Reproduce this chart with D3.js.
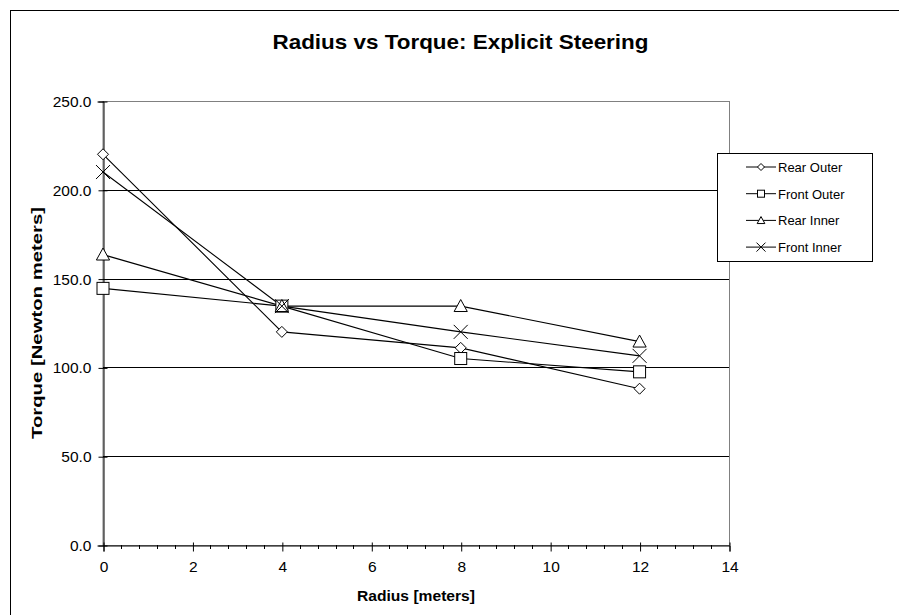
<!DOCTYPE html>
<html>
<head>
<meta charset="utf-8">
<script src="https://cdn.jsdelivr.net/npm/d3@7"></script>
<style>
  html, body { margin: 0; padding: 0; background: #fff; }
  svg { display: block; font-family: Arial, "Liberation Sans", sans-serif; }
</style>
</head>
<body>
<svg id="chart" width="899" height="615"></svg>
<script>
const radius = [0, 4, 8, 12];
const seriesNames = ["Rear Outer", "Front Outer", "Rear Inner", "Front Inner"];
const rearOuter  = [220, 120, 111, 88];
const frontOuter = [144.5, 134.5, 105, 97.5];
const rearInner  = [163.5, 134.5, 134.5, 114.5];
const frontInner = [210, 134.5, 120, 106.5];
const markers = ["diamond", "square", "triangle", "cross"];
const xTicks = [0, 2, 4, 6, 8, 10, 12, 14];
const yTicks = [0, 50, 100, 150, 200, 250];

const seriesValues = [rearOuter, frontOuter, rearInner, frontInner];
const FONT = "Arial, 'Liberation Sans', sans-serif";

const svg = d3.select("#chart");
// outer chart border
svg.append("rect").attr("x", 10.5).attr("y", 10.5).attr("width", 900).attr("height", 620)
  .attr("fill", "none").attr("stroke", "#000").attr("stroke-width", 1);

const L = 103, R = 729, T = 101, B = 545;
const x = d3.scaleLinear().domain([0, 14]).range([L, R]);
const y = d3.scaleLinear().domain([0, 250]).range([B, T]);

// plot area border (top/right gray)
svg.append("rect").attr("x", L).attr("y", T + 0.5).attr("width", R - L + 0.5).attr("height", B - T)
  .attr("fill", "none").attr("stroke", "#808080").attr("stroke-width", 1);

// gridlines
svg.append("g").selectAll("line").data(yTicks.filter(d => d > 0 && d < 250)).join("line")
  .attr("x1", L).attr("x2", R).attr("y1", d => Math.round(y(d)) + 0.5).attr("y2", d => Math.round(y(d)) + 0.5)
  .attr("stroke", "#000").attr("stroke-width", 1);

// y axis
const yAxis = d3.axisLeft(y).tickValues(yTicks).tickFormat(d3.format(".1f")).tickSize(6).tickPadding(6);
const gy = svg.append("g").attr("transform", `translate(${L + 0.5},0.5)`).call(yAxis);
gy.attr("font-size", null).attr("font-family", null);
gy.select(".domain").attr("stroke", "#000");
gy.selectAll(".tick line").attr("x2", -5).attr("x1", 4).attr("stroke", "#000");
gy.selectAll("text").style("font-size", "15.5px").attr("fill", "#000").style("font-family", FONT);

// x axis minor ticks
const minor = d3.range(0, 14.001, 0.4).filter(v => Math.abs(v / 2 - Math.round(v / 2)) > 0.01);
svg.append("g").selectAll("line").data(minor).join("line")
  .attr("x1", d => Math.round(x(d)) + 0.5).attr("x2", d => Math.round(x(d)) + 0.5)
  .attr("y1", B).attr("y2", B + 4).attr("stroke", "#000");

const xAxis = d3.axisBottom(x).tickValues(xTicks).tickFormat(d3.format("d")).tickSize(6).tickPadding(9);
const gx = svg.append("g").attr("transform", `translate(0.5,${B + 0.5})`).call(xAxis);
gx.attr("font-size", null).attr("font-family", null);
gx.select(".domain").attr("stroke", "#000");
gx.selectAll(".tick line").attr("y1", -3).attr("stroke", "#000");
gx.selectAll("text").style("font-size", "15.5px").attr("fill", "#000").style("font-family", FONT);

// title and axis labels
svg.append("text").attr("x", 460.5).attr("y", 49).attr("text-anchor", "middle")
  .attr("font-size", 21).attr("font-weight", "bold")
  .attr("textLength", 376).attr("lengthAdjust", "spacingAndGlyphs")
  .text("Radius vs Torque: Explicit Steering");
svg.append("text").attr("x", (L + R) / 2).attr("y", 601).attr("text-anchor", "middle")
  .attr("font-size", 15.5).attr("font-weight", "bold")
  .attr("textLength", 118).attr("lengthAdjust", "spacingAndGlyphs")
  .text("Radius [meters]");
svg.append("text").attr("transform", `translate(42,${(T + B) / 2}) rotate(-90)`).attr("text-anchor", "middle")
  .attr("font-size", 14).attr("font-weight", "bold")
  .attr("textLength", 232).attr("lengthAdjust", "spacingAndGlyphs")
  .text("Torque [Newton meters]");

function drawMarker(g, type, cx, cy, s) {
  const h = s / 2;
  if (type === "diamond") {
    g.append("path").attr("d", `M${cx},${cy - h}L${cx + h},${cy}L${cx},${cy + h}L${cx - h},${cy}Z`)
      .attr("fill", "#fff").attr("stroke", "#000");
  } else if (type === "square") {
    g.append("rect").attr("x", cx - h).attr("y", cy - h).attr("width", s).attr("height", s)
      .attr("fill", "#fff").attr("stroke", "#000");
  } else if (type === "triangle") {
    g.append("path").attr("d", `M${cx},${cy - h * 1.1}L${cx + h * 1.1},${cy + h * 0.9}L${cx - h * 1.1},${cy + h * 0.9}Z`)
      .attr("fill", "#fff").attr("stroke", "#000");
  } else {
    g.append("path").attr("d", `M${cx - h},${cy - h}L${cx + h},${cy + h}M${cx - h},${cy + h}L${cx + h},${cy - h}`)
      .attr("fill", "none").attr("stroke", "#000");
  }
}

const line = d3.line().x((d, i) => x(radius[i])).y(d => y(d));
const plot = svg.append("g");
seriesValues.forEach((vals) => {
  plot.append("path").datum(vals).attr("d", line).attr("fill", "none").attr("stroke", "#000").attr("stroke-width", 1.1);
});
const sizes = { diamond: 11, square: 12, triangle: 12, cross: 14 };
seriesValues.forEach((vals, si) => {
  const g = plot.append("g");
  vals.forEach((v, i) => drawMarker(g, markers[si], x(radius[i]), y(v), sizes[markers[si]]));
});

// legend
const lg = svg.append("g");
lg.append("rect").attr("x", 717.5).attr("y", 153.5).attr("width", 155).attr("height", 108)
  .attr("fill", "#fff").attr("stroke", "#000");
const legendSizes = { diamond: 7, square: 7, triangle: 7, cross: 9 };
seriesNames.forEach((name, i) => {
  const yy = 167 + i * 26.7;
  lg.append("line").attr("x1", 746).attr("x2", 776).attr("y1", yy).attr("y2", yy).attr("stroke", "#000");
  drawMarker(lg, markers[i], 761, yy, legendSizes[markers[i]]);
  lg.append("text").attr("x", 778).attr("y", yy + 5).attr("font-size", 13).text(name);
});
</script>
</body>
</html>
